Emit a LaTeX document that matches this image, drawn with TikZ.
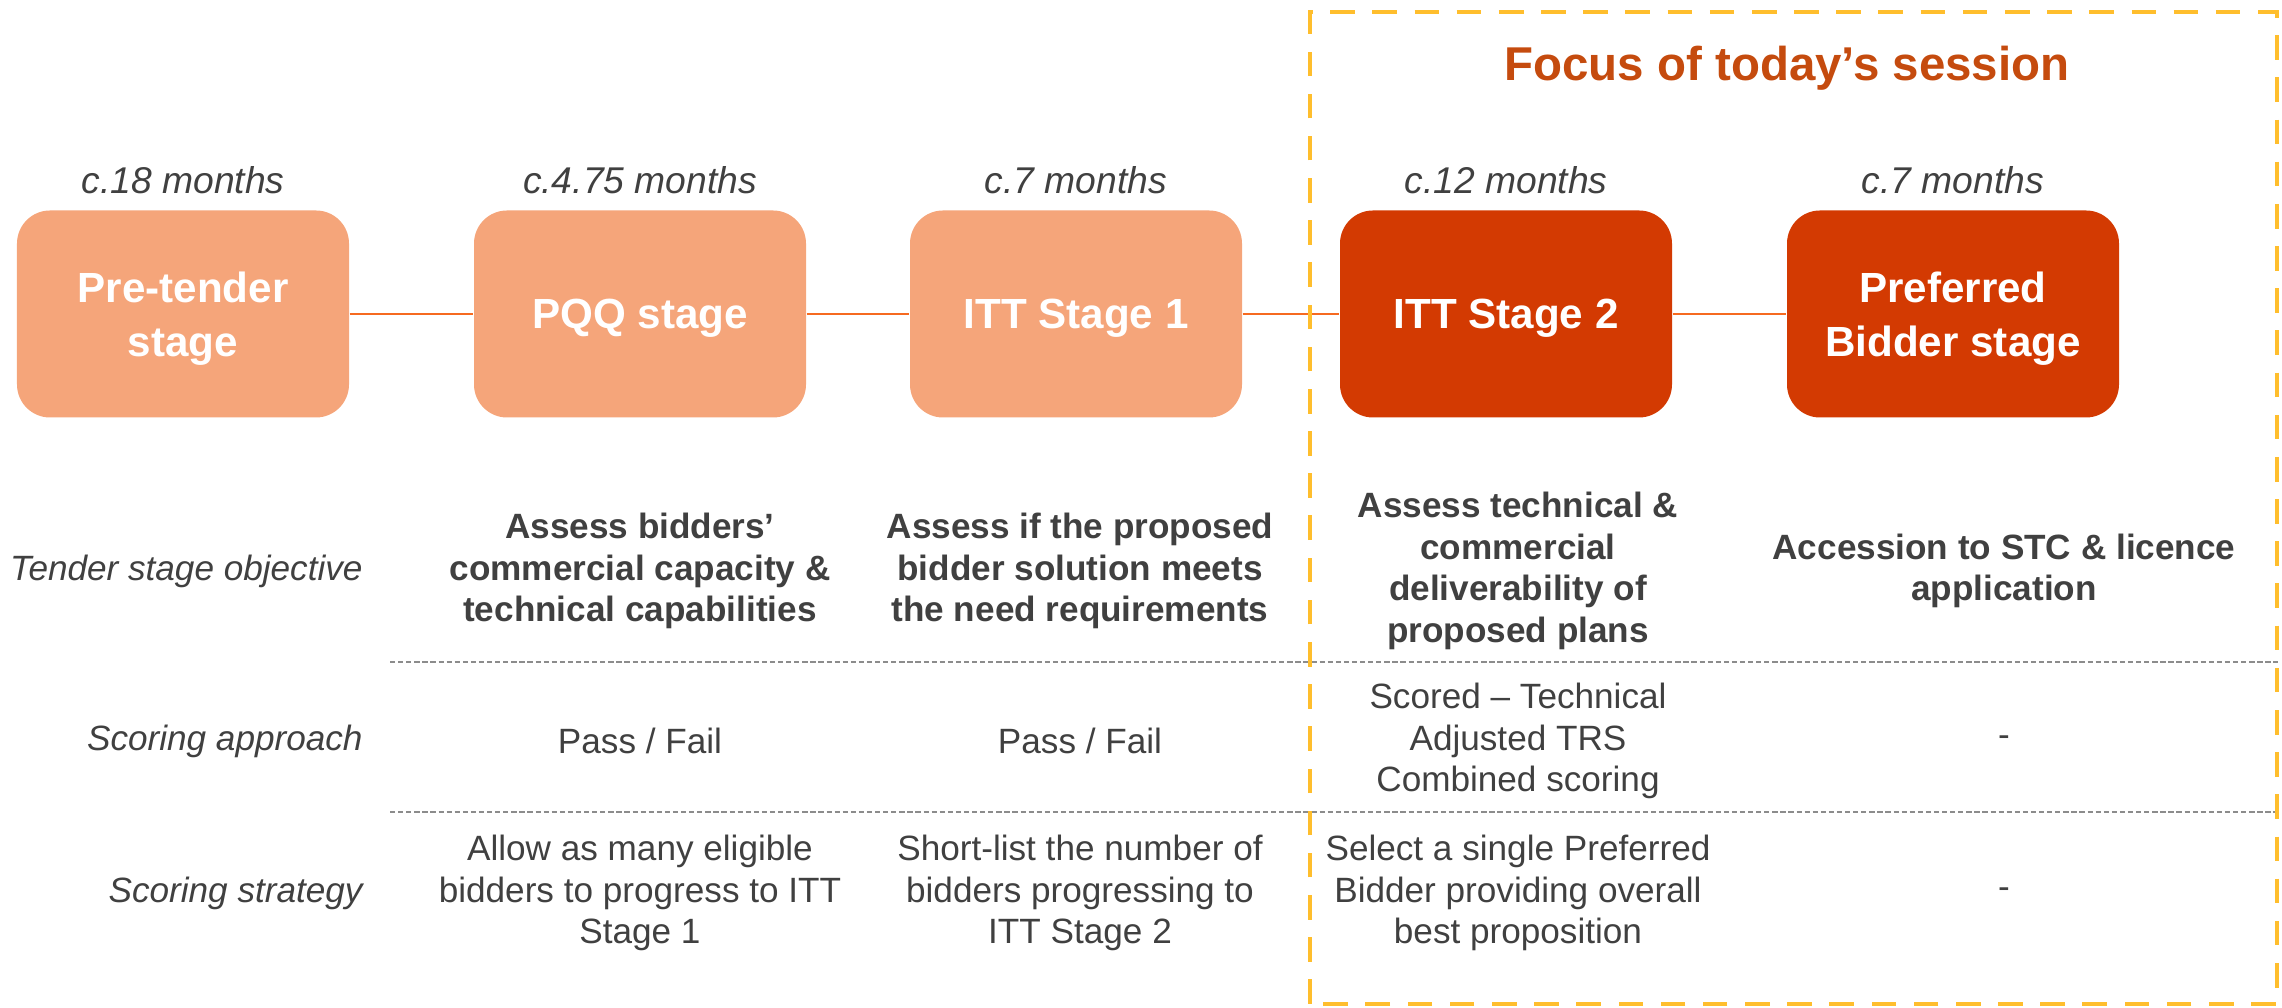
\documentclass[tikz,border=0pt]{standalone}
\usepackage{fontspec}
\setmainfont{Liberation Sans}
\definecolor{stagelight}{RGB}{245,165,122}
\definecolor{stagedark}{RGB}{211,58,2}
\definecolor{linkorange}{RGB}{246,106,32}
\definecolor{focusred}{RGB}{197,75,14}
\definecolor{focusframe}{RGB}{255,190,45}
\definecolor{bodygrey}{RGB}{64,64,64}

\begin{document}
\begin{tikzpicture}
	[
		stage/.style = {shape=rectangle, rounded corners=0.33cm, minimum width=3.32cm, minimum height=2.07cm, align=center, text=white, text depth=0pt, font=\fontsize{12}{15.3}\selectfont\bfseries, anchor=center},
		lstage/.style = {stage, fill=stagelight},
		dstage/.style = {stage, fill=stagedark},
		span/.style = {text=bodygrey, font=\fontsize{10.6}{13}\selectfont\itshape},
		rowlabel/.style = {text=bodygrey, font=\fontsize{10}{11.8}\selectfont\itshape, anchor=east},
		cell/.style = {text=bodygrey, align=center, font=\fontsize{10}{11.8}\selectfont},
		goal/.style = {cell, font=\fontsize{10}{11.8}\selectfont\bfseries},
		link/.style = {draw=linkorange, line width=0.8pt},
		divider/.style = {draw=black!45, dash pattern=on 1.5pt off 0.8pt, line width=0.4pt},
		focusbox/.style = {draw=focusframe, line width=1.3pt, dash pattern=on 7pt off 5pt}
	]
	
	\useasboundingbox (0,0) rectangle (22.82,10.08);
	
	\def\ybox{6.94}
	\def\yspan{8.28}
	\def\yobj{4.37}
	\def\yappr{2.67}
	\def\ystrat{1.15}
	
	\node [lstage] (pre) at (1.83, \ybox) {Pre-tender\\stage};
	\node [lstage] (pqq) at (6.40, \ybox) {PQQ stage};
	\node [lstage] (itta) at (10.76, \ybox) {ITT Stage 1};
	\node [dstage] (ittb) at (15.06, \ybox) {ITT Stage 2};
	\node [dstage] (pref) at (19.53, \ybox) {Preferred\\Bidder stage};
	
	\draw [link] (pre) -- (pqq);
	\draw [link] (pqq) -- (itta);
	\draw [link] (itta) -- (ittb);
	\draw [link] (ittb) -- (pref);
	
	\node [span] (preT) at (1.83, \yspan) {c.18 months};
	\node [span] (pqqT) at (6.40, \yspan) {c.4.75 months};
	\node [span] (ittaT) at (10.76, \yspan) {c.7 months};
	\node [span] (ittbT) at (15.06, \yspan) {c.12 months};
	\node [span] (prefT) at (19.53, \yspan) {c.7 months};
	
	\node [font=\fontsize{13.5}{16}\selectfont\bfseries, text=focusred] (focus) at (17.87, 9.40) {Focus of today’s session};
	
	\node [rowlabel] (objL) at (3.75, \yobj) {Tender stage objective};
	\node [rowlabel] (apprL) at (3.75, \yappr) {Scoring approach};
	\node [rowlabel] (stratL) at (3.75, \ystrat) {Scoring strategy};
	
	\node [goal] (pqqO) at (6.40, \yobj) {Assess bidders’\\commercial capacity \&\\technical capabilities};
	\node [goal] (ittaO) at (10.80, \yobj) {Assess if the proposed\\bidder solution meets\\the need requirements};
	\node [goal] (ittbO) at (15.18, \yobj) {Assess technical \&\\commercial\\deliverability of\\proposed plans};
	\node [goal] (prefO) at (20.04, \yobj) {Accession to STC \& licence\\application};
	
	\draw [divider] (3.90, 3.46) -- (22.78, 3.46);
	
	\node [cell] (pqqA) at (6.40, \yappr) {Pass / Fail};
	\node [cell] (ittaA) at (10.80, \yappr) {Pass / Fail};
	\node [cell] (ittbA) at (15.18, \yappr) {Scored – Technical\\Adjusted TRS\\Combined scoring};
	\node [cell] (prefA) at (20.04, \yappr) {-};
	
	\draw [divider] (3.90, 1.96) -- (22.78, 1.96);
	
	\node [cell] (pqqS) at (6.40, \ystrat) {Allow as many eligible\\bidders to progress to ITT\\Stage 1};
	\node [cell] (ittaS) at (10.80, \ystrat) {Short-list the number of\\bidders progressing to\\ITT Stage 2};
	\node [cell] (ittbS) at (15.18, \ystrat) {Select a single Preferred\\Bidder providing overall\\best proposition};
	\node [cell] (prefS) at (20.04, \ystrat) {-};
	
	\draw [focusbox] (13.10, 0.04) rectangle (22.77, 9.96);
	
\end{tikzpicture}
\end{document}
